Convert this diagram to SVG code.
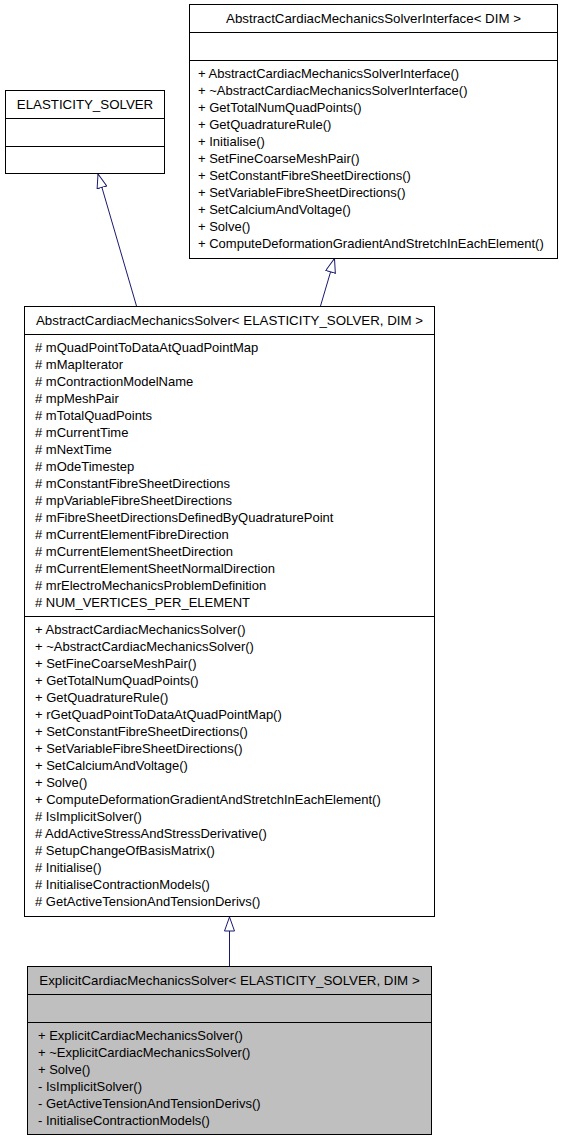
<svg xmlns="http://www.w3.org/2000/svg" width="563" height="1141" viewBox="0 0 563 1141">
<style>
.box{fill:#ffffff;stroke:#000000;stroke-width:1}
.gbox{fill:#bfbfbf;stroke:#000000;stroke-width:1}
.sep{stroke:#000000;stroke-width:1}
text{font-family:"Liberation Sans",Arial,Helvetica,sans-serif;font-size:13px;fill:#000000}
.t{text-anchor:middle;font-size:13.3px}
.edge{stroke:#191970;stroke-width:1;fill:none}
</style>
<defs>
<marker id="inh" markerUnits="userSpaceOnUse" viewBox="0 0 15 11" refX="14.5" refY="5.5" markerWidth="15" markerHeight="11" orient="auto">
<path d="M0.5,0.5 L14.5,5.5 L0.5,10.5 Z" fill="#ffffff" stroke="#191970" stroke-width="1"/>
</marker>
</defs>
<rect width="563" height="1141" fill="#ffffff"/>

<g id="connectors">
<line class="edge" x1="136.5" y1="306" x2="98" y2="174" marker-end="url(#inh)"/>
<line class="edge" x1="320.5" y1="306" x2="334.5" y2="258.5" marker-end="url(#inh)"/>
<line class="edge" x1="229.5" y1="966" x2="229.5" y2="917" marker-end="url(#inh)"/>
</g>

<g id="elasticity_solver">
<rect class="box" x="5.5" y="90.5" width="159" height="83"/>
<line class="sep" x1="5.5" y1="118.5" x2="164.5" y2="118.5"/>
<line class="sep" x1="5.5" y1="146.5" x2="164.5" y2="146.5"/>
<text class="t" x="85" y="109">ELASTICITY_SOLVER</text>
</g>

<g id="interface">
<rect class="box" x="189.5" y="4.5" width="368" height="254"/>
<line class="sep" x1="189.5" y1="32.5" x2="557.5" y2="32.5"/>
<line class="sep" x1="189.5" y1="60.5" x2="557.5" y2="60.5"/>
<text class="t" x="373.5" y="23">AbstractCardiacMechanicsSolverInterface&lt; DIM &gt;</text>
<text x="198" y="78">+ AbstractCardiacMechanicsSolverInterface()</text>
<text x="198" y="95">+ ~AbstractCardiacMechanicsSolverInterface()</text>
<text x="198" y="112">+ GetTotalNumQuadPoints()</text>
<text x="198" y="129">+ GetQuadratureRule()</text>
<text x="198" y="146">+ Initialise()</text>
<text x="198" y="163">+ SetFineCoarseMeshPair()</text>
<text x="198" y="180">+ SetConstantFibreSheetDirections()</text>
<text x="198" y="197">+ SetVariableFibreSheetDirections()</text>
<text x="198" y="214">+ SetCalciumAndVoltage()</text>
<text x="198" y="231">+ Solve()</text>
<text x="198" y="248">+ ComputeDeformationGradientAndStretchInEachElement()</text>
</g>

<g id="abstract_solver">
<rect class="box" x="24.5" y="306.5" width="410" height="610"/>
<line class="sep" x1="24.5" y1="334.5" x2="434.5" y2="334.5"/>
<line class="sep" x1="24.5" y1="616.5" x2="434.5" y2="616.5"/>
<text class="t" x="229.5" y="325">AbstractCardiacMechanicsSolver&lt; ELASTICITY_SOLVER, DIM &gt;</text>
<text x="35" y="352"># mQuadPointToDataAtQuadPointMap</text>
<text x="35" y="369"># mMapIterator</text>
<text x="35" y="386"># mContractionModelName</text>
<text x="35" y="403"># mpMeshPair</text>
<text x="35" y="420"># mTotalQuadPoints</text>
<text x="35" y="437"># mCurrentTime</text>
<text x="35" y="454"># mNextTime</text>
<text x="35" y="471"># mOdeTimestep</text>
<text x="35" y="488"># mConstantFibreSheetDirections</text>
<text x="35" y="505"># mpVariableFibreSheetDirections</text>
<text x="35" y="522"># mFibreSheetDirectionsDefinedByQuadraturePoint</text>
<text x="35" y="539"># mCurrentElementFibreDirection</text>
<text x="35" y="556"># mCurrentElementSheetDirection</text>
<text x="35" y="573"># mCurrentElementSheetNormalDirection</text>
<text x="35" y="590"># mrElectroMechanicsProblemDefinition</text>
<text x="35" y="607"># NUM_VERTICES_PER_ELEMENT</text>
<text x="35" y="634">+ AbstractCardiacMechanicsSolver()</text>
<text x="35" y="651">+ ~AbstractCardiacMechanicsSolver()</text>
<text x="35" y="668">+ SetFineCoarseMeshPair()</text>
<text x="35" y="685">+ GetTotalNumQuadPoints()</text>
<text x="35" y="702">+ GetQuadratureRule()</text>
<text x="35" y="719">+ rGetQuadPointToDataAtQuadPointMap()</text>
<text x="35" y="736">+ SetConstantFibreSheetDirections()</text>
<text x="35" y="753">+ SetVariableFibreSheetDirections()</text>
<text x="35" y="770">+ SetCalciumAndVoltage()</text>
<text x="35" y="787">+ Solve()</text>
<text x="35" y="804">+ ComputeDeformationGradientAndStretchInEachElement()</text>
<text x="35" y="821"># IsImplicitSolver()</text>
<text x="35" y="838"># AddActiveStressAndStressDerivative()</text>
<text x="35" y="855"># SetupChangeOfBasisMatrix()</text>
<text x="35" y="872"># Initialise()</text>
<text x="35" y="889"># InitialiseContractionModels()</text>
<text x="35" y="906"># GetActiveTensionAndTensionDerivs()</text>
</g>

<g id="explicit_solver">
<rect class="gbox" x="27.5" y="966.5" width="404" height="168"/>
<line class="sep" x1="27.5" y1="994.5" x2="431.5" y2="994.5"/>
<line class="sep" x1="27.5" y1="1022.5" x2="431.5" y2="1022.5"/>
<text class="t" x="229.5" y="985">ExplicitCardiacMechanicsSolver&lt; ELASTICITY_SOLVER, DIM &gt;</text>
<text x="38" y="1040">+ ExplicitCardiacMechanicsSolver()</text>
<text x="38" y="1057">+ ~ExplicitCardiacMechanicsSolver()</text>
<text x="38" y="1074">+ Solve()</text>
<text x="38" y="1091">- IsImplicitSolver()</text>
<text x="38" y="1108">- GetActiveTensionAndTensionDerivs()</text>
<text x="38" y="1125">- InitialiseContractionModels()</text>
</g>
</svg>
